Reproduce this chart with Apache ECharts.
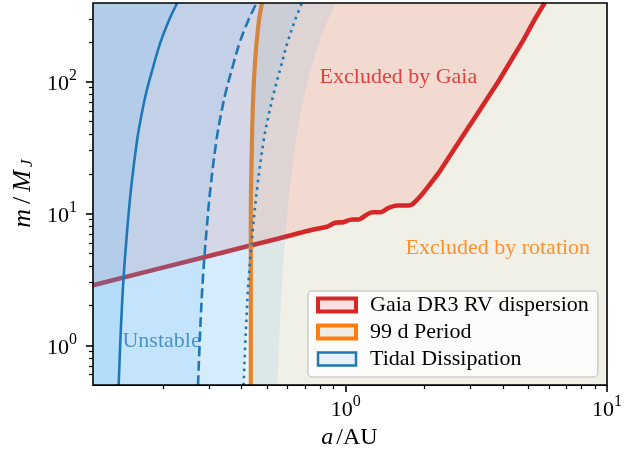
<!DOCTYPE html>
<html><head><meta charset="utf-8">
<script src="https://cdn.jsdelivr.net/npm/echarts@6/dist/echarts.min.js"></script>
<style>html,body{margin:0;padding:0;background:#fff}#c{width:636px;height:455px}</style>
</head><body><div id="c"></div>
<script>
// ---- axis ranges / ticks ----
const X_MIN = 0.108, X_MAX = 10, Y_MIN = 0.5, Y_MAX = 395;
const xMajorTicks = [1, 10];
const xMinorTicks = [0.2,0.3,0.4,0.5,0.6,0.7,0.8,0.9,2,3,4,5,6,7,8,9];
const yMajorTicks = [1, 10, 100];
const yMinorTicks = [0.6,0.7,0.8,0.9,2,3,4,5,6,7,8,9,20,30,40,50,60,70,80,90,200,300];

// ---- Gaia DR3 RV dispersion limit (a in AU, m in M_J) ----
const gaiaA = [0.108,0.30,0.55,0.671,0.754,0.849,0.913,0.98,1.058,1.12,1.19,1.262,1.357,1.46,1.573,1.742,1.795,1.931,2.072,2.243,2.449,2.747,3.080,3.454,3.873,4.305,4.784,5.271,5.77];
const gaiaM = [2.86,4.77,6.45,7.15,7.57,7.94,8.51,8.6,9.01,9.01,9.66,10.23,10.23,11.04,11.5,11.5,11.7,13.51,16.08,19.71,25.6,36.3,51.3,72.7,103.0,145.9,206.7,292.6,395];

// ---- 99 d period ----
const periodA = [0.4337,0.4337,0.4337,0.4374,0.441,0.4456,0.4512,0.4565,0.467,0.4787];
const periodM = [0.5,3,10,30,60,100,150,200,300,395];

// ---- Tidal dissipation curves (shared mass grid) ----
const tidalM = [0.5,1.328,3.17,7.57,16.0,36.3,54.1,82.1,129.2,196.1,282.6,395];
const tidalSolidA = [0.13537,0.13804,0.14125,0.14604,0.15128,0.15936,0.16507,0.17250,0.18346,0.19514,0.20941,0.22671];
const tidalDashA  = [0.27246,0.27784,0.28424,0.29390,0.30442,0.32073,0.33222,0.34722,0.36925,0.39271,0.42139,0.45604];
const tidalDotA   = [0.40727,0.41561,0.42560,0.44157,0.45951,0.48637,0.50601,0.53116,0.56495,0.59836,0.63651,0.67991];
const tidalOuterA = [0.54802,0.55875,0.57177,0.59095,0.61213,0.64476,0.66786,0.69790,0.74235,0.78964,0.84765,0.91731];

// ---- annotations ----
const annoText = ['Excluded by Gaia','Excluded by rotation','Unstable'];
const annoA = [0.795,1.696,0.140];
const annoM = [108.5,5.5,1.08];
const annoColor = ['rgba(214,39,40,0.85)','rgba(255,127,14,0.85)','rgba(31,119,180,0.75)'];

const FONT = 'Liberation Serif';
const zip = (a, m) => a.map((v, i) => [v, m[i]]);

function supLabel(v) {
  const e = Math.round(Math.log10(v));
  return '{b|10}{s|' + e + '}';
}
const labelRich = {
  b: {fontFamily: FONT, fontSize: 22, color: '#000', lineHeight: 27, verticalAlign: 'bottom'},
  s: {fontFamily: FONT, fontSize: 16, color: '#000', lineHeight: 16, verticalAlign: 'top'}
};

function polySeries(name, z, color, ptsFn) {
  return {
    type: 'custom', name: name, z: z, clip: true, silent: true, data: [0],
    xAxisIndex: 0, yAxisIndex: 0,
    renderItem: function (params, api) {
      const pts = ptsFn().map(p => api.coord(p));
      return {type: 'polygon', shape: {points: pts, smooth: 0}, style: {fill: color}};
    }
  };
}
function leftOf(a, m) {
  return () => zip(a, m).concat([[X_MIN, Y_MAX], [X_MIN, Y_MIN]]);
}
function lineSeries(a, m, color, width, type, z, smooth) {
  return {
    type: 'line', data: zip(a, m), showSymbol: false, symbol: 'none', z: z, silent: true,
    xAxisIndex: 0, yAxisIndex: 0, clip: true, smooth: smooth,
    lineStyle: {color: color, width: width, type: type, cap: 'butt'}
  };
}

const BLUE_FILL = 'rgba(56,162,245,0.111)';

const series = [
  polySeries('99 d Period', 1, 'rgba(230,228,210,0.55)',
    () => zip(periodA, periodM).concat([[X_MAX, Y_MAX], [X_MAX, Y_MIN]])),
  polySeries('Gaia DR3 RV dispersion', 2, 'rgba(255,130,120,0.2)',
    () => zip(gaiaA, gaiaM).concat([[X_MIN, Y_MAX]])),
  lineSeries(gaiaA, gaiaM, '#d62728', 4.6, 'solid', 3, 0.3),
  lineSeries(periodA, periodM, '#ff7f0e', 4.2, 'solid', 4, 0.3),
  polySeries('Tidal Dissipation', 5, BLUE_FILL, leftOf(tidalSolidA, tidalM)),
  polySeries('tidal2', 5, BLUE_FILL, leftOf(tidalDashA, tidalM)),
  polySeries('tidal3', 5, BLUE_FILL, leftOf(tidalDotA, tidalM)),
  polySeries('tidal4', 5, BLUE_FILL, leftOf(tidalOuterA, tidalM)),
  lineSeries(tidalSolidA, tidalM, '#1f77b4', 2.6, 'solid', 6, 0.4),
  lineSeries(tidalDashA, tidalM, '#1f77b4', 2.6, [10, 4.5], 6, 0.4),
  lineSeries(tidalDotA, tidalM, '#1f77b4', 2.6, [2.6, 4.4], 6, 0.4),
  {
    type: 'custom', z: 7, silent: true, xAxisIndex: 0, yAxisIndex: 0,
    data: annoText.map((t, i) => [annoA[i], annoM[i], i]),
    renderItem: function (params, api) {
      const i = api.value(2);
      const p = api.coord([api.value(0), api.value(1)]);
      return {type: 'text', x: p[0], y: p[1],
        style: {text: annoText[i], fill: annoColor[i], font: '22px "' + FONT + '"',
          align: 'left', verticalAlign: 'middle'}};
    }
  }
];

const xNameRich = {
  i: {fontFamily: FONT, fontStyle: 'italic', fontSize: 24, color: '#000', padding: [0, 1]},
  r: {fontFamily: FONT, fontSize: 24, color: '#000', padding: [0, 2]}
};
const yNameRich = {
  i: {fontFamily: FONT, fontStyle: 'italic', fontSize: 26, color: '#000', padding: [0, 2]},
  r: {fontFamily: FONT, fontSize: 26, color: '#000', padding: [0, 3]},
  sub: {fontFamily: FONT, fontStyle: 'italic', fontSize: 17, color: '#000', verticalAlign: 'bottom', padding: [0, 1]}
};

const chart = echarts.init(document.getElementById('c'), null, {renderer: 'canvas'});
chart.setOption({
  animation: false,
  backgroundColor: '#fff',
  grid: {left: 93, right: 29, top: 3, bottom: 69, show: true, borderColor: '#000', borderWidth: 1.6, z: 20, backgroundColor: 'transparent'},
  xAxis: [
    {type: 'log', logBase: 10, min: X_MIN, max: X_MAX, position: 'bottom', z: 20,
     axisLine: {show: false}, splitLine: {show: false},
     axisTick: {show: true, length: 7, lineStyle: {color: '#000', width: 1.6}, customValues: xMajorTicks},
     axisLabel: {customValues: xMajorTicks, formatter: supLabel, rich: labelRich, margin: 9},
     name: '{i|a}{r|/AU}', nameLocation: 'middle', nameGap: 40,
     nameTextStyle: {rich: xNameRich}},
    {type: 'log', logBase: 10, min: X_MIN, max: X_MAX, position: 'bottom', z: 20,
     axisLine: {show: false}, splitLine: {show: false},
     axisTick: {show: true, length: 4, lineStyle: {color: '#000', width: 1.2}, customValues: xMinorTicks},
     axisLabel: {show: false}}
  ],
  yAxis: [
    {type: 'log', logBase: 10, min: Y_MIN, max: Y_MAX, position: 'left', z: 20,
     axisLine: {show: false}, splitLine: {show: false},
     axisTick: {show: true, length: 7, lineStyle: {color: '#000', width: 1.6}, customValues: yMajorTicks},
     axisLabel: {customValues: yMajorTicks, formatter: supLabel, rich: labelRich, margin: 16},
     name: '{i|m}{r|/}{i|M}{sub|J}', nameLocation: 'middle', nameGap: 49, nameRotate: 90,
     nameTextStyle: {rich: yNameRich}},
    {type: 'log', logBase: 10, min: Y_MIN, max: Y_MAX, position: 'left', z: 20,
     axisLine: {show: false}, splitLine: {show: false},
     axisTick: {show: true, length: 4, lineStyle: {color: '#000', width: 1.2}, customValues: yMinorTicks},
     axisLabel: {show: false}}
  ],
  legend: {
    orient: 'vertical', left: 308, top: 291, z: 30,
    backgroundColor: 'rgba(255,255,255,0.8)', borderColor: '#ccc', borderWidth: 1.5, borderRadius: 4,
    padding: [2, 9, 6, 8], itemGap: 3, itemWidth: 38, itemHeight: 13,
    selectedMode: false,
    textStyle: {fontFamily: FONT, fontSize: 22, color: '#000', lineHeight: 24, padding: [0, 0, 0, 9]},
    data: [
      {name: 'Gaia DR3 RV dispersion', icon: 'rect', itemStyle: {color: 'rgb(252,224,224)', borderColor: '#d62728', borderWidth: 4}},
      {name: '99 d Period', icon: 'rect', itemStyle: {color: 'rgb(240,238,226)', borderColor: '#ff7f0e', borderWidth: 4}},
      {name: 'Tidal Dissipation', icon: 'rect', itemStyle: {color: 'rgb(230,241,252)', borderColor: '#1f77b4', borderWidth: 2.5}}
    ]
  },
  series: series
});
</script></body></html>
